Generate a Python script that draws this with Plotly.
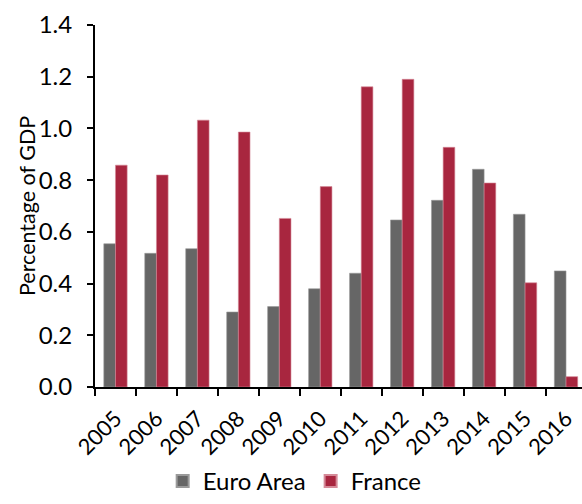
import plotly.graph_objects as go

years = ["2005", "2006", "2007", "2008", "2009", "2010", "2011", "2012", "2013", "2014", "2015", "2016"]
euro_area = [0.554, 0.517, 0.535, 0.29, 0.311, 0.38, 0.44, 0.646, 0.722, 0.842, 0.668, 0.449]
france = [0.858, 0.82, 1.032, 0.986, 0.652, 0.775, 1.161, 1.19, 0.927, 0.789, 0.403, 0.04]

FONT = "Lato, 'DejaVu Sans', sans-serif"

fig = go.Figure()
fig.add_trace(go.Bar(x=years, y=euro_area, name="Euro Area",
                     marker=dict(color="#666666", line=dict(color="#9a9a9a", width=0.6))))
fig.add_trace(go.Bar(x=years, y=france, name="France",
                     marker=dict(color="#A8263F", line=dict(color="#d58a98", width=0.6))))

fig.update_layout(
    width=582, height=504,
    margin=dict(l=95, r=0, t=25, b=117),
    paper_bgcolor="white", plot_bgcolor="white",
    barmode="group", bargap=0.43, bargroupgap=0,
    font=dict(family=FONT, size=22, color="black"),
    showlegend=True,
    legend=dict(orientation="h", x=0.41, xanchor="center", y=-0.323, yanchor="bottom",
                font=dict(size=24), itemsizing="constant", traceorder="normal",
                itemwidth=30),
    annotations=[dict(text="Percentage of GDP", xref="paper", yref="paper",
                      x=-0.1396, y=0.5, xanchor="center", yanchor="middle",
                      textangle=-90, showarrow=False, font=dict(size=21.5))],
)
fig.update_xaxes(
    range=[-0.5, 11.39], tickangle=-45, showline=True, linecolor="black", linewidth=2,
    ticks="outside", tickson="boundaries", ticklen=7, tickwidth=2, tickcolor="black",
    showgrid=False, tickfont=dict(size=22), automargin=False, ticklabelstandoff=8,
)
fig.update_yaxes(
    range=[0, 1.4], tickvals=[0, 0.2, 0.4, 0.6, 0.8, 1.0, 1.2, 1.4],
    ticktext=["0.0", "0.2", "0.4", "0.6", "0.8", "1.0", "1.2", "1.4"],
    showline=True, linecolor="black", linewidth=2,
    ticks="outside", ticklen=6, tickwidth=2, tickcolor="black",
    showgrid=False, zeroline=False, tickfont=dict(size=24), automargin=False,
    ticklabelstandoff=10,
)

fig.write_html("out.html")
